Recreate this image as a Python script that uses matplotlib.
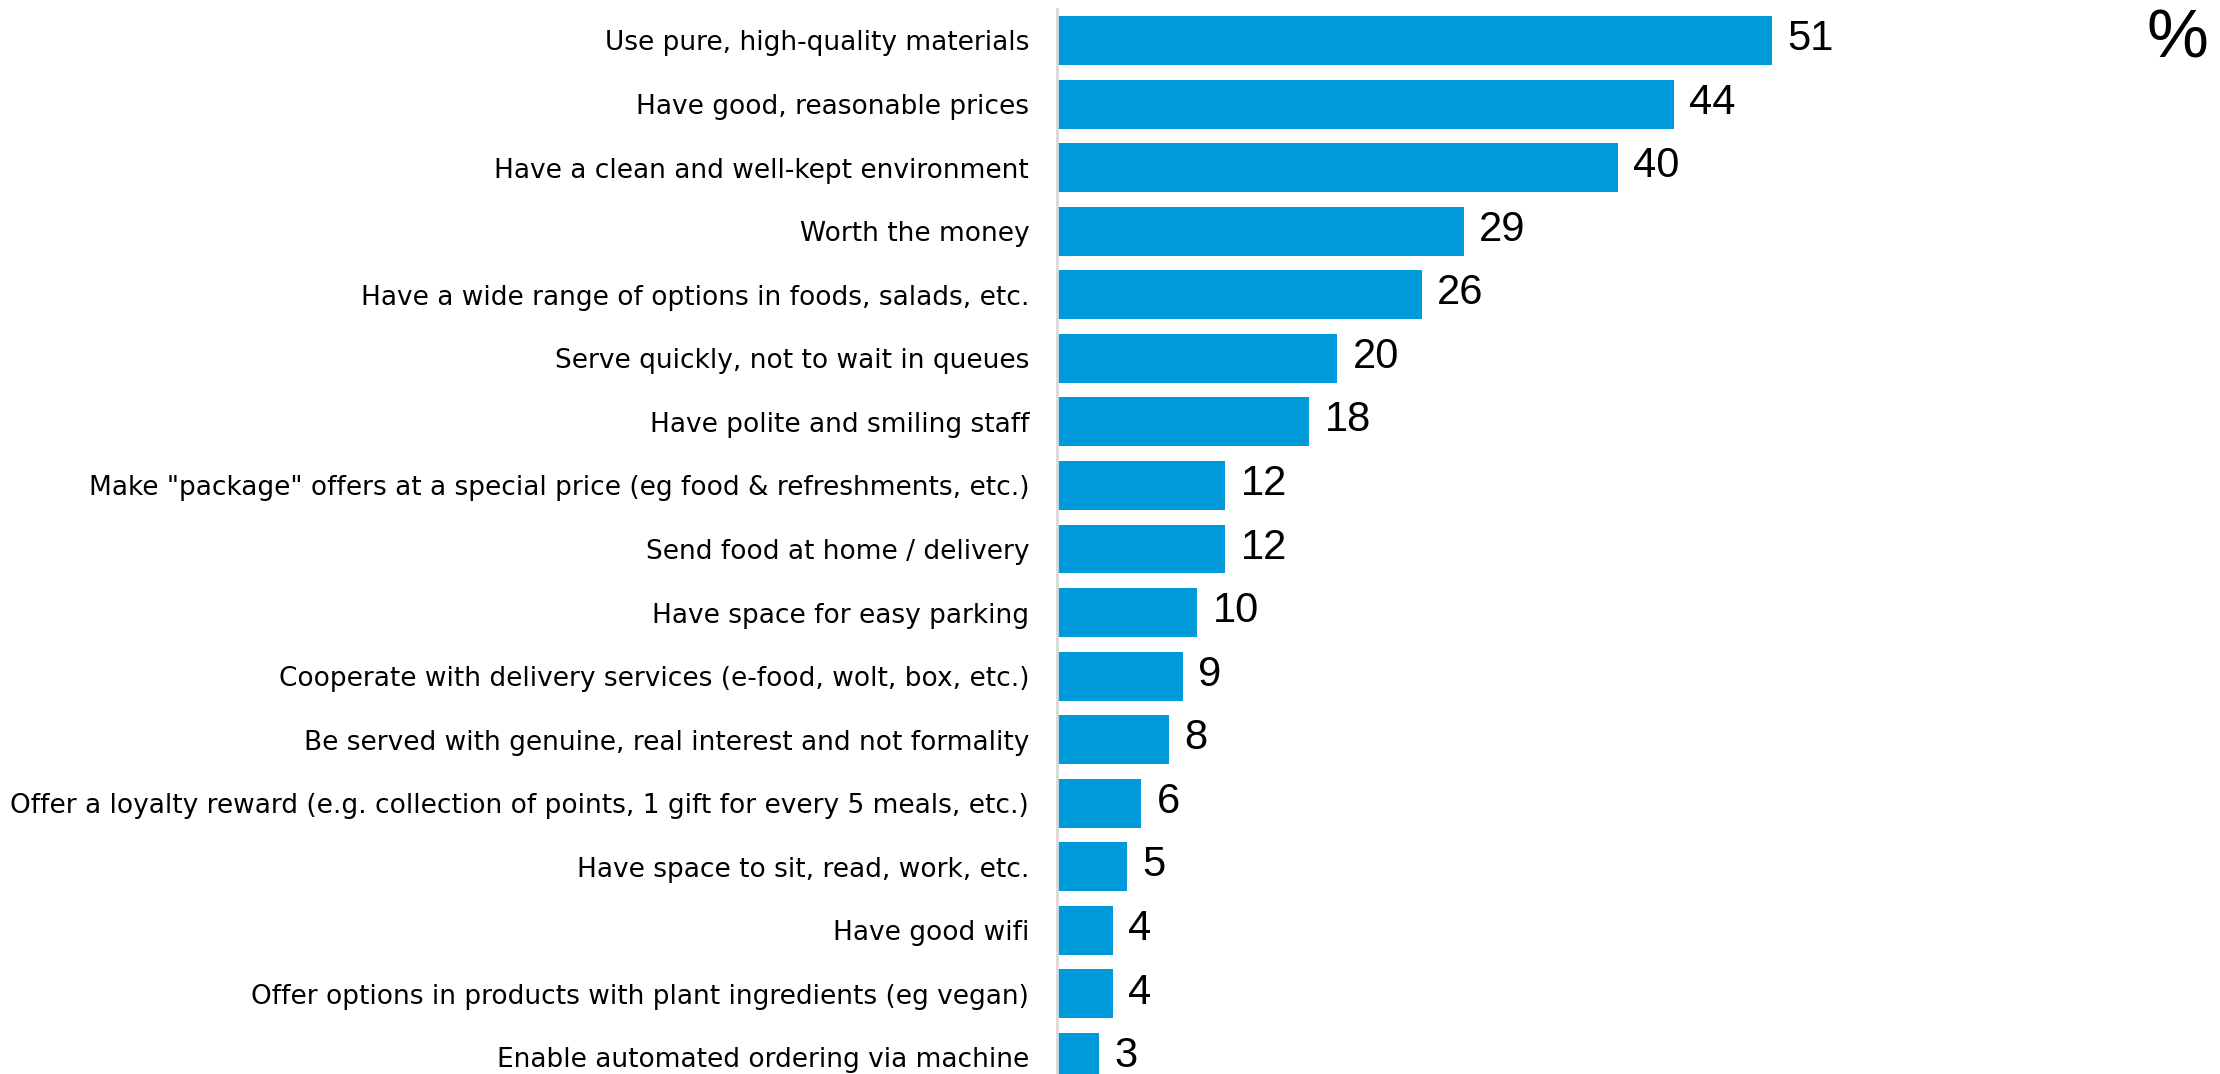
import matplotlib
matplotlib.use("Agg")
import matplotlib.pyplot as plt

categories = [
    "Use pure, high-quality materials",
    "Have good, reasonable prices",
    "Have a clean and well-kept environment",
    "Worth the money",
    "Have a wide range of options in foods, salads, etc.",
    "Serve quickly, not to wait in queues",
    "Have polite and smiling staff",
    'Make "package" offers at a special price (eg food & refreshments, etc.)',
    "Send food at home / delivery",
    "Have space for easy parking",
    "Cooperate with delivery services (e-food, wolt, box, etc.)",
    "Be served with genuine, real interest and not formality",
    "Offer a loyalty reward (e.g. collection of points, 1 gift for every 5 meals, etc.)",
    "Have space to sit, read, work, etc.",
    "Have good wifi",
    "Offer options in products with plant ingredients (eg vegan)",
    "Enable automated ordering via machine",
]
values = [51, 44, 40, 29, 26, 20, 18, 12, 12, 10, 9, 8, 6, 5, 4, 4, 3]

BAR_COLOR = "#009ADA"
LABEL_FONT = ["DejaVu Sans"]
NUM_FONT = ["Liberation Sans", "DejaVu Sans"]

W, H = 2220, 1074
fig = plt.figure(figsize=(W / 100, H / 100), dpi=100)
# axes: left edge at the axis line, top a few px below the figure top
ax = fig.add_axes([1057 / W, 0, 1 - 1057 / W, 1065 / H])

y = list(range(len(categories)))
ax.barh(y, values, height=0.77, color=BAR_COLOR, zorder=2)

pitch = 63.56
ax.set_ylim((1065 - 31.5) / pitch, -31.5 / pitch)
ax.set_xlim(0, (W - 1057) / 14.02)

for yi, v in zip(y, values):
    ax.annotate(str(v), (v, yi), xytext=(11, 1), textcoords="offset points",
                ha="left", va="center", fontsize=30, family=NUM_FONT)

ax.set_yticks(y)
ax.set_yticklabels(categories, fontsize=19, family=LABEL_FONT)
ax.tick_params(axis="y", length=0, pad=20)
ax.set_xticks([])

for s in ["top", "right", "bottom"]:
    ax.spines[s].set_visible(False)
ax.spines["left"].set_color("#d9d9d9")
ax.spines["left"].set_linewidth(2)

fig.text(2208 / W, 1 - 8 / H, "%", ha="right", va="top", fontsize=50, family=NUM_FONT)

fig.savefig("out.png", dpi=100)
